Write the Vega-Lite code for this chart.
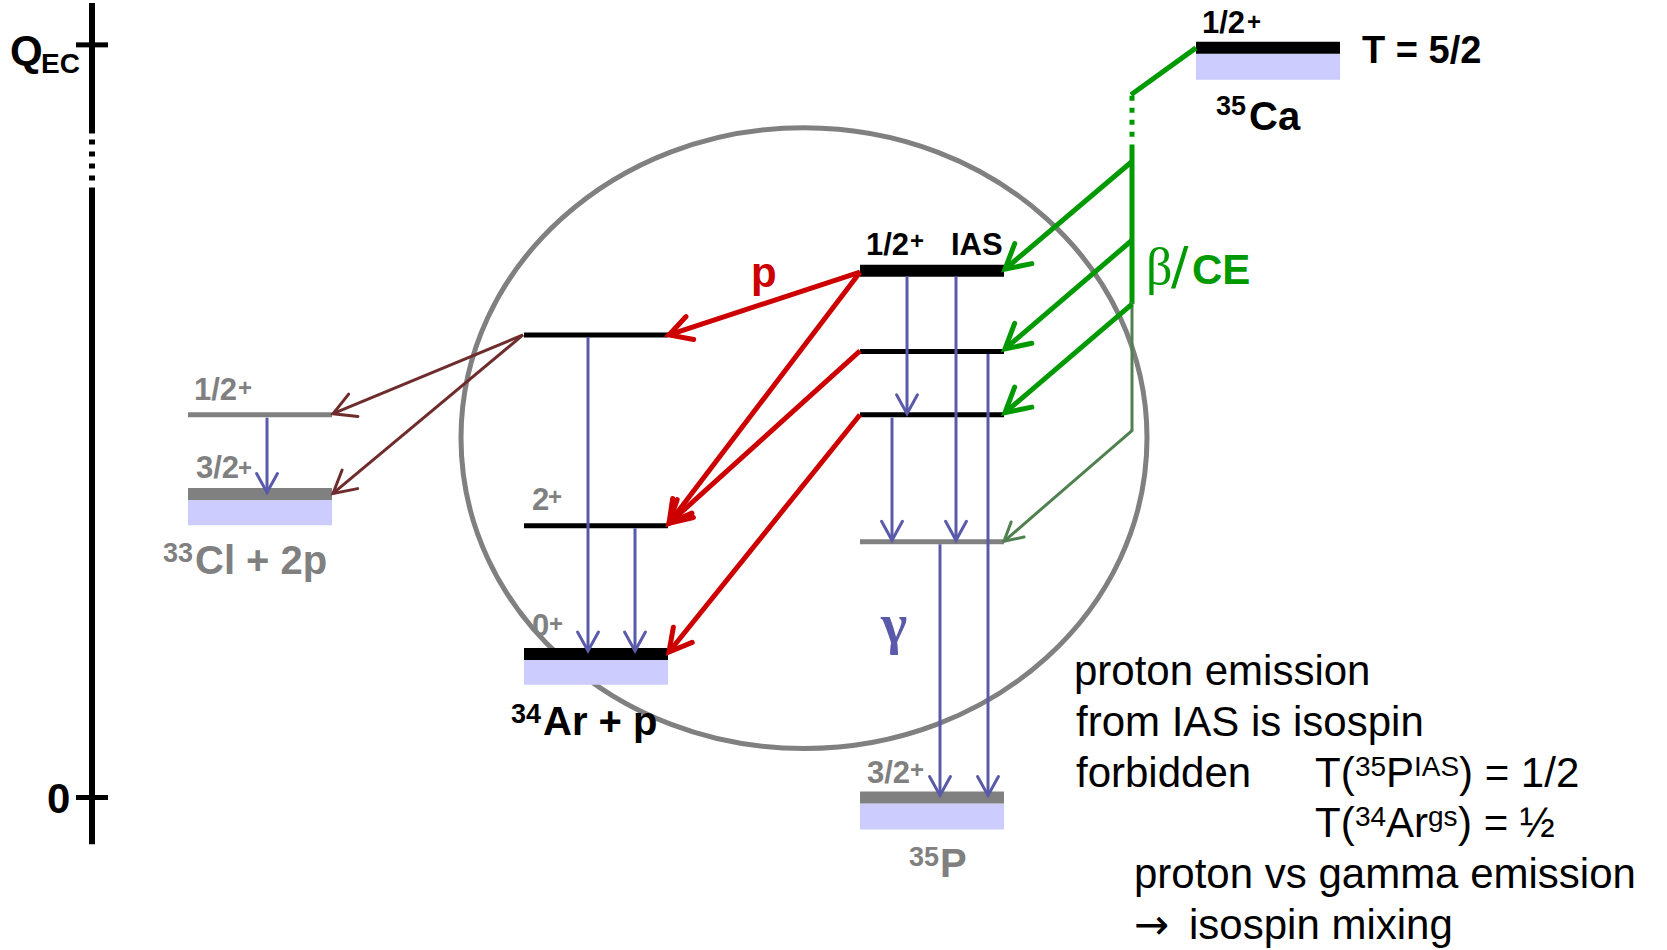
{
  "$schema": "https://vega.github.io/schema/vega-lite/v6.json",
  "width": 1667,
  "height": 950,
  "autosize": {"type": "fit", "contains": "padding"},
  "padding": 0,
  "background": "white",
  "config": {"view": {"stroke": null}},
  "datasets": {
    "ring": [{"x": 804, "y": 436.5}],
    "bands": [
      {"nucleus": "35Ca", "x": 1196, "x2": 1340, "y": 51, "y2": 77},
      {"nucleus": "34Ar+p", "x": 524, "x2": 668, "y": 659, "y2": 684},
      {"nucleus": "33Cl+2p", "x": 188, "x2": 332, "y": 498.5, "y2": 524},
      {"nucleus": "35P", "x": 860, "x2": 1004, "y": 803, "y2": 829}
    ],
    "levels": [
      {"kind": "mainGs", "nucleus": "35Ca", "x": 1196, "x2": 1340, "y": 45},
      {"kind": "mainGs", "nucleus": "35P IAS", "x": 860, "x2": 1004, "y": 268.5},
      {"kind": "mainGs", "nucleus": "34Ar+p", "x": 524, "x2": 668, "y": 653},
      {"kind": "sideGs", "nucleus": "33Cl+2p", "x": 188, "x2": 332, "y": 492.5},
      {"kind": "sideGs", "nucleus": "35P", "x": 860, "x2": 1004, "y": 797},
      {"kind": "main", "nucleus": "34Ar+p", "x": 524, "x2": 668, "y": 333},
      {"kind": "main", "nucleus": "34Ar+p", "x": 524, "x2": 668, "y": 524.5},
      {"kind": "main", "nucleus": "35P", "x": 860, "x2": 1004, "y": 349.5},
      {"kind": "main", "nucleus": "35P", "x": 860, "x2": 1004, "y": 413},
      {"kind": "side", "nucleus": "35P", "x": 860, "x2": 1004, "y": 540.5},
      {"kind": "side", "nucleus": "33Cl+2p", "x": 188, "x2": 332, "y": 413}
    ],
    "lines": [
      {"kind": "axis", "x": 92, "y": 0, "x2": 92, "y2": 131},
      {"kind": "axis", "x": 92, "y": 185, "x2": 92, "y2": 844},
      {"kind": "axisBreak", "x": 92, "y": 137, "x2": 92, "y2": 180},
      {"kind": "tick", "x": 76, "y": 42, "x2": 108, "y2": 42},
      {"kind": "tick", "x": 76, "y": 797, "x2": 108, "y2": 797},
      {"kind": "beta", "x": 1196, "y": 45, "x2": 1131, "y2": 92},
      {"kind": "beta", "x": 1132, "y": 142, "x2": 1132, "y2": 302},
      {"kind": "betaBreak", "x": 1132, "y": 93, "x2": 1132, "y2": 140},
      {"kind": "betaWeak", "x": 1132, "y": 300, "x2": 1132, "y2": 430}
    ],
    "arrows": [
      {"kind": "p", "x": 860, "y": 270, "x2": 669, "y2": 333, "dir": 161.7},
      {"kind": "p", "x": 860, "y": 270, "x2": 669, "y2": 522, "dir": 127.2},
      {"kind": "p", "x": 860, "y": 349, "x2": 669, "y2": 522, "dir": 137.8},
      {"kind": "p", "x": 860, "y": 413, "x2": 669, "y2": 651, "dir": 128.8},
      {"kind": "beta", "x": 1132, "y": 159, "x2": 1005, "y2": 267, "dir": 139.6},
      {"kind": "beta", "x": 1132, "y": 238, "x2": 1005, "y2": 347, "dir": 139.4},
      {"kind": "beta", "x": 1132, "y": 302, "x2": 1005, "y2": 411, "dir": 139.4},
      {"kind": "betaWeak", "x": 1132, "y": 429, "x2": 1004, "y2": 540, "dir": 139.1},
      {"kind": "twoP", "x": 523, "y": 333, "x2": 333, "y2": 412, "dir": 157.4},
      {"kind": "twoP", "x": 523, "y": 333, "x2": 333, "y2": 492, "dir": 140.1},
      {"kind": "gamma", "x": 907, "y": 274, "x2": 907, "y2": 412, "dir": 90},
      {"kind": "gamma", "x": 956, "y": 274, "x2": 956, "y2": 539, "dir": 90},
      {"kind": "gamma", "x": 988, "y": 352, "x2": 988, "y2": 795, "dir": 90},
      {"kind": "gamma", "x": 892, "y": 416, "x2": 892, "y2": 539, "dir": 90},
      {"kind": "gamma", "x": 940, "y": 543, "x2": 940, "y2": 795, "dir": 90},
      {"kind": "gamma", "x": 588, "y": 335, "x2": 588, "y2": 650, "dir": 90},
      {"kind": "gamma", "x": 635, "y": 527, "x2": 635, "y2": 650, "dir": 90},
      {"kind": "gamma", "x": 267, "y": 416, "x2": 267, "y2": 491, "dir": 90}
    ],
    "texts": [
      {"kind": "qec", "x": 10, "y": 62, "t": "Q"},
      {"kind": "qec", "x": 47, "y": 813, "t": "0"},
      {"kind": "qecSub", "x": 41, "y": 70, "t": "EC"},
      {"kind": "spin", "x": 1202, "y": 30, "t": "1/2"},
      {"kind": "spin", "x": 866, "y": 253, "t": "1/2"},
      {"kind": "spin", "x": 951, "y": 253, "t": "IAS"},
      {"kind": "spinSup", "x": 1247, "y": 27, "t": "+"},
      {"kind": "spinSup", "x": 910, "y": 247, "t": "+"},
      {"kind": "spinGray", "x": 194, "y": 398, "t": "1/2"},
      {"kind": "spinGray", "x": 196, "y": 477, "t": "3/2"},
      {"kind": "spinGray", "x": 532, "y": 509, "t": "2"},
      {"kind": "spinGray", "x": 532, "y": 635, "t": "0"},
      {"kind": "spinGray", "x": 867, "y": 782, "t": "3/2"},
      {"kind": "spinGraySup", "x": 238, "y": 394, "t": "+"},
      {"kind": "spinGraySup", "x": 238, "y": 474, "t": "+"},
      {"kind": "spinGraySup", "x": 548, "y": 504, "t": "+"},
      {"kind": "spinGraySup", "x": 549, "y": 631, "t": "+"},
      {"kind": "spinGraySup", "x": 910, "y": 777, "t": "+"},
      {"kind": "nuc", "x": 1249, "y": 127, "t": "Ca"},
      {"kind": "nuc", "x": 543, "y": 734, "t": "Ar + p"},
      {"kind": "nucSup", "x": 1216, "y": 112, "t": "35"},
      {"kind": "nucSup", "x": 511, "y": 722, "t": "34"},
      {"kind": "iso", "x": 1362, "y": 60, "t": "T = 5/2"},
      {"kind": "nucGray", "x": 195, "y": 573, "t": "Cl + 2p"},
      {"kind": "nucGray", "x": 940, "y": 877, "t": "P"},
      {"kind": "nucGraySup", "x": 163, "y": 561, "t": "33"},
      {"kind": "nucGraySup", "x": 909, "y": 866, "t": "35"},
      {"kind": "p", "x": 751, "y": 285, "t": "p"},
      {"kind": "gamma", "x": 881, "y": 642, "t": "γ"},
      {"kind": "beta", "x": 1146, "y": 282, "t": "β"},
      {"kind": "slash", "x": 1171, "y": 282, "t": "/"},
      {"kind": "ce", "x": 1192, "y": 282, "t": "CE"},
      {"kind": "note", "x": 1074, "y": 684, "t": "proton emission"},
      {"kind": "note", "x": 1076, "y": 735, "t": "from IAS is isospin"},
      {"kind": "note", "x": 1076, "y": 786, "t": "forbidden"},
      {"kind": "note", "x": 1315, "y": 786, "t": "T("},
      {"kind": "note", "x": 1386, "y": 786, "t": "P"},
      {"kind": "note", "x": 1459, "y": 786, "t": ") = 1/2"},
      {"kind": "note", "x": 1315, "y": 837, "t": "T("},
      {"kind": "note", "x": 1386, "y": 837, "t": "Ar"},
      {"kind": "note", "x": 1458, "y": 837, "t": ") = ½"},
      {"kind": "note", "x": 1134, "y": 888, "t": "proton vs gamma emission"},
      {"kind": "noteArrow", "x": 1134, "y": 939, "t": "→"},
      {"kind": "note", "x": 1189, "y": 939, "t": "isospin mixing"},
      {"kind": "noteSup", "x": 1355, "y": 775, "t": "35"},
      {"kind": "noteSup", "x": 1414, "y": 775, "t": "IAS"},
      {"kind": "noteSup", "x": 1355, "y": 826, "t": "34"},
      {"kind": "noteSup", "x": 1428, "y": 826, "t": "gs"}
    ]
  },
  "encoding": {
    "x": {"field": "x", "type": "quantitative", "scale": {"domain": [0, 1667], "nice": false, "zero": false}, "axis": null},
    "y": {"field": "y", "type": "quantitative", "scale": {"domain": [0, 950], "nice": false, "zero": false, "reverse": true}, "axis": null}
  },
  "layer": [
    {
      "data": {"name": "ring"},
      "mark": {"type": "point", "shape": "M -1 0 A 1 0.905 0 1 1 1 0 A 1 0.905 0 1 1 -1 0 Z", "size": 470596, "filled": false, "color": "#808080", "strokeWidth": 5, "opacity": 1}
    },
    {
      "data": {"name": "bands"},
      "mark": {"type": "rect", "color": "#CCCCFF"},
      "encoding": {"x2": {"field": "x2"}, "y2": {"field": "y2"}}
    },
    {
      "data": {"name": "levels"},
      "transform": [{"filter": "datum.kind === 'mainGs'"}],
      "mark": {"type": "rule", "color": "#000000", "strokeWidth": 12},
      "encoding": {"x2": {"field": "x2"}}
    },
    {
      "data": {"name": "levels"},
      "transform": [{"filter": "datum.kind === 'sideGs'"}],
      "mark": {"type": "rule", "color": "#808080", "strokeWidth": 12},
      "encoding": {"x2": {"field": "x2"}}
    },
    {
      "data": {"name": "levels"},
      "transform": [{"filter": "datum.kind === 'main'"}],
      "mark": {"type": "rule", "color": "#000000", "strokeWidth": 5},
      "encoding": {"x2": {"field": "x2"}}
    },
    {
      "data": {"name": "levels"},
      "transform": [{"filter": "datum.kind === 'side'"}],
      "mark": {"type": "rule", "color": "#808080", "strokeWidth": 5},
      "encoding": {"x2": {"field": "x2"}}
    },
    {
      "data": {"name": "lines"},
      "transform": [{"filter": "datum.kind === 'axis'"}],
      "mark": {"type": "rule", "color": "#000000", "strokeWidth": 6},
      "encoding": {"x2": {"field": "x2"}, "y2": {"field": "y2"}}
    },
    {
      "data": {"name": "lines"},
      "transform": [{"filter": "datum.kind === 'axisBreak'"}],
      "mark": {"type": "rule", "color": "#000000", "strokeWidth": 6, "strokeDash": [5, 7]},
      "encoding": {"x2": {"field": "x2"}, "y2": {"field": "y2"}}
    },
    {
      "data": {"name": "lines"},
      "transform": [{"filter": "datum.kind === 'tick'"}],
      "mark": {"type": "rule", "color": "#000000", "strokeWidth": 5},
      "encoding": {"x2": {"field": "x2"}, "y2": {"field": "y2"}}
    },
    {
      "data": {"name": "lines"},
      "transform": [{"filter": "datum.kind === 'beta'"}],
      "mark": {"type": "rule", "color": "#009900", "strokeWidth": 5},
      "encoding": {"x2": {"field": "x2"}, "y2": {"field": "y2"}}
    },
    {
      "data": {"name": "lines"},
      "transform": [{"filter": "datum.kind === 'betaBreak'"}],
      "mark": {"type": "rule", "color": "#009900", "strokeWidth": 5, "strokeDash": [5, 7]},
      "encoding": {"x2": {"field": "x2"}, "y2": {"field": "y2"}}
    },
    {
      "data": {"name": "lines"},
      "transform": [{"filter": "datum.kind === 'betaWeak'"}],
      "mark": {"type": "rule", "color": "#508050", "strokeWidth": 3},
      "encoding": {"x2": {"field": "x2"}, "y2": {"field": "y2"}}
    },
    {
      "data": {"name": "arrows"},
      "transform": [{"filter": "datum.kind === 'gamma'"}],
      "mark": {"type": "rule", "color": "#5A5AAA", "strokeWidth": 3},
      "encoding": {"x2": {"field": "x2"}, "y2": {"field": "y2"}}
    },
    {
      "data": {"name": "arrows"},
      "transform": [{"filter": "datum.kind === 'gamma'"}],
      "mark": {"type": "point", "shape": "M -1 -0.55 L 0 0 L -1 0.55", "filled": false, "color": "#5A5AAA", "strokeWidth": 3, "size": 1444, "opacity": 1, "strokeJoin": "miter", "strokeCap": "round"},
      "encoding": {
        "x": {"field": "x2", "type": "quantitative", "scale": {"domain": [0, 1667], "nice": false, "zero": false}, "axis": null},
        "y": {"field": "y2", "type": "quantitative", "scale": {"domain": [0, 950], "nice": false, "zero": false, "reverse": true}, "axis": null},
        "angle": {"field": "dir", "type": "quantitative", "scale": null}
      }
    },
    {
      "data": {"name": "arrows"},
      "transform": [{"filter": "datum.kind === 'twoP'"}],
      "mark": {"type": "rule", "color": "#6E2C2C", "strokeWidth": 3},
      "encoding": {"x2": {"field": "x2"}, "y2": {"field": "y2"}}
    },
    {
      "data": {"name": "arrows"},
      "transform": [{"filter": "datum.kind === 'twoP'"}],
      "mark": {"type": "point", "shape": "M -1 -0.55 L 0 0 L -1 0.55", "filled": false, "color": "#6E2C2C", "strokeWidth": 3, "size": 1936, "opacity": 1, "strokeJoin": "miter", "strokeCap": "round"},
      "encoding": {
        "x": {"field": "x2", "type": "quantitative", "scale": {"domain": [0, 1667], "nice": false, "zero": false}, "axis": null},
        "y": {"field": "y2", "type": "quantitative", "scale": {"domain": [0, 950], "nice": false, "zero": false, "reverse": true}, "axis": null},
        "angle": {"field": "dir", "type": "quantitative", "scale": null}
      }
    },
    {
      "data": {"name": "arrows"},
      "transform": [{"filter": "datum.kind === 'betaWeak'"}],
      "mark": {"type": "rule", "color": "#508050", "strokeWidth": 3},
      "encoding": {"x2": {"field": "x2"}, "y2": {"field": "y2"}}
    },
    {
      "data": {"name": "arrows"},
      "transform": [{"filter": "datum.kind === 'betaWeak'"}],
      "mark": {"type": "point", "shape": "M -1 -0.55 L 0 0 L -1 0.55", "filled": false, "color": "#508050", "strokeWidth": 3, "size": 1296, "opacity": 1, "strokeJoin": "miter", "strokeCap": "round"},
      "encoding": {
        "x": {"field": "x2", "type": "quantitative", "scale": {"domain": [0, 1667], "nice": false, "zero": false}, "axis": null},
        "y": {"field": "y2", "type": "quantitative", "scale": {"domain": [0, 950], "nice": false, "zero": false, "reverse": true}, "axis": null},
        "angle": {"field": "dir", "type": "quantitative", "scale": null}
      }
    },
    {
      "data": {"name": "arrows"},
      "transform": [{"filter": "datum.kind === 'beta'"}],
      "mark": {"type": "rule", "color": "#009900", "strokeWidth": 5},
      "encoding": {"x2": {"field": "x2"}, "y2": {"field": "y2"}}
    },
    {
      "data": {"name": "arrows"},
      "transform": [{"filter": "datum.kind === 'beta'"}],
      "mark": {"type": "point", "shape": "M -1 -0.55 L 0 0 L -1 0.55", "filled": false, "color": "#009900", "strokeWidth": 5, "size": 2304, "opacity": 1, "strokeJoin": "miter", "strokeCap": "round"},
      "encoding": {
        "x": {"field": "x2", "type": "quantitative", "scale": {"domain": [0, 1667], "nice": false, "zero": false}, "axis": null},
        "y": {"field": "y2", "type": "quantitative", "scale": {"domain": [0, 950], "nice": false, "zero": false, "reverse": true}, "axis": null},
        "angle": {"field": "dir", "type": "quantitative", "scale": null}
      }
    },
    {
      "data": {"name": "arrows"},
      "transform": [{"filter": "datum.kind === 'p'"}],
      "mark": {"type": "rule", "color": "#CC0000", "strokeWidth": 5},
      "encoding": {"x2": {"field": "x2"}, "y2": {"field": "y2"}}
    },
    {
      "data": {"name": "arrows"},
      "transform": [{"filter": "datum.kind === 'p'"}],
      "mark": {"type": "point", "shape": "M -1 -0.55 L 0 0 L -1 0.55", "filled": false, "color": "#CC0000", "strokeWidth": 5, "size": 1936, "opacity": 1, "strokeJoin": "miter", "strokeCap": "round"},
      "encoding": {
        "x": {"field": "x2", "type": "quantitative", "scale": {"domain": [0, 1667], "nice": false, "zero": false}, "axis": null},
        "y": {"field": "y2", "type": "quantitative", "scale": {"domain": [0, 950], "nice": false, "zero": false, "reverse": true}, "axis": null},
        "angle": {"field": "dir", "type": "quantitative", "scale": null}
      }
    },
    {
      "data": {"name": "texts"},
      "transform": [{"filter": "datum.kind === 'qec'"}],
      "mark": {"type": "text", "align": "left", "baseline": "alphabetic", "font": "Liberation Sans", "fontWeight": "bold", "fontSize": 42, "color": "#000000"},
      "encoding": {"text": {"field": "t"}}
    },
    {
      "data": {"name": "texts"},
      "transform": [{"filter": "datum.kind === 'qecSub'"}],
      "mark": {"type": "text", "align": "left", "baseline": "alphabetic", "font": "Liberation Sans", "fontWeight": "bold", "fontSize": 28, "color": "#000000"},
      "encoding": {"text": {"field": "t"}}
    },
    {
      "data": {"name": "texts"},
      "transform": [{"filter": "datum.kind === 'spin'"}],
      "mark": {"type": "text", "align": "left", "baseline": "alphabetic", "font": "Liberation Sans", "fontWeight": "bold", "fontSize": 31, "color": "#000000"},
      "encoding": {"text": {"field": "t"}}
    },
    {
      "data": {"name": "texts"},
      "transform": [{"filter": "datum.kind === 'spinSup'"}],
      "mark": {"type": "text", "align": "left", "baseline": "alphabetic", "font": "Liberation Sans", "fontWeight": "bold", "fontSize": 24, "color": "#000000"},
      "encoding": {"text": {"field": "t"}}
    },
    {
      "data": {"name": "texts"},
      "transform": [{"filter": "datum.kind === 'spinGray'"}],
      "mark": {"type": "text", "align": "left", "baseline": "alphabetic", "font": "Liberation Sans", "fontWeight": "bold", "fontSize": 31, "color": "#808080"},
      "encoding": {"text": {"field": "t"}}
    },
    {
      "data": {"name": "texts"},
      "transform": [{"filter": "datum.kind === 'spinGraySup'"}],
      "mark": {"type": "text", "align": "left", "baseline": "alphabetic", "font": "Liberation Sans", "fontWeight": "bold", "fontSize": 24, "color": "#808080"},
      "encoding": {"text": {"field": "t"}}
    },
    {
      "data": {"name": "texts"},
      "transform": [{"filter": "datum.kind === 'nuc'"}],
      "mark": {"type": "text", "align": "left", "baseline": "alphabetic", "font": "Liberation Sans", "fontWeight": "bold", "fontSize": 40, "color": "#000000"},
      "encoding": {"text": {"field": "t"}}
    },
    {
      "data": {"name": "texts"},
      "transform": [{"filter": "datum.kind === 'nucSup'"}],
      "mark": {"type": "text", "align": "left", "baseline": "alphabetic", "font": "Liberation Sans", "fontWeight": "bold", "fontSize": 27, "color": "#000000"},
      "encoding": {"text": {"field": "t"}}
    },
    {
      "data": {"name": "texts"},
      "transform": [{"filter": "datum.kind === 'iso'"}],
      "mark": {"type": "text", "align": "left", "baseline": "alphabetic", "font": "Liberation Sans", "fontWeight": "bold", "fontSize": 38, "color": "#000000"},
      "encoding": {"text": {"field": "t"}}
    },
    {
      "data": {"name": "texts"},
      "transform": [{"filter": "datum.kind === 'nucGray'"}],
      "mark": {"type": "text", "align": "left", "baseline": "alphabetic", "font": "Liberation Sans", "fontWeight": "bold", "fontSize": 40, "color": "#808080"},
      "encoding": {"text": {"field": "t"}}
    },
    {
      "data": {"name": "texts"},
      "transform": [{"filter": "datum.kind === 'nucGraySup'"}],
      "mark": {"type": "text", "align": "left", "baseline": "alphabetic", "font": "Liberation Sans", "fontWeight": "bold", "fontSize": 27, "color": "#808080"},
      "encoding": {"text": {"field": "t"}}
    },
    {
      "data": {"name": "texts"},
      "transform": [{"filter": "datum.kind === 'p'"}],
      "mark": {"type": "text", "align": "left", "baseline": "alphabetic", "font": "Liberation Sans", "fontWeight": "bold", "fontSize": 42, "color": "#CC0000"},
      "encoding": {"text": {"field": "t"}}
    },
    {
      "data": {"name": "texts"},
      "transform": [{"filter": "datum.kind === 'gamma'"}],
      "mark": {"type": "text", "align": "left", "baseline": "alphabetic", "font": "Liberation Serif", "fontWeight": "bold", "fontSize": 56, "color": "#5A5AAA"},
      "encoding": {"text": {"field": "t"}}
    },
    {
      "data": {"name": "texts"},
      "transform": [{"filter": "datum.kind === 'beta'"}],
      "mark": {"type": "text", "align": "left", "baseline": "alphabetic", "font": "Liberation Serif", "fontSize": 52, "color": "#009900"},
      "encoding": {"text": {"field": "t"}}
    },
    {
      "data": {"name": "texts"},
      "transform": [{"filter": "datum.kind === 'slash'"}],
      "mark": {"type": "text", "align": "left", "baseline": "alphabetic", "font": "DejaVu Sans", "fontSize": 52, "color": "#009900"},
      "encoding": {"text": {"field": "t"}}
    },
    {
      "data": {"name": "texts"},
      "transform": [{"filter": "datum.kind === 'ce'"}],
      "mark": {"type": "text", "align": "left", "baseline": "alphabetic", "font": "Liberation Sans", "fontWeight": "bold", "fontSize": 42, "color": "#009900"},
      "encoding": {"text": {"field": "t"}}
    },
    {
      "data": {"name": "texts"},
      "transform": [{"filter": "datum.kind === 'note'"}],
      "mark": {"type": "text", "align": "left", "baseline": "alphabetic", "font": "Liberation Sans", "fontSize": 42, "color": "#000000"},
      "encoding": {"text": {"field": "t"}}
    },
    {
      "data": {"name": "texts"},
      "transform": [{"filter": "datum.kind === 'noteArrow'"}],
      "mark": {"type": "text", "align": "left", "baseline": "alphabetic", "font": "DejaVu Sans", "fontSize": 42, "color": "#000000"},
      "encoding": {"text": {"field": "t"}}
    },
    {
      "data": {"name": "texts"},
      "transform": [{"filter": "datum.kind === 'noteSup'"}],
      "mark": {"type": "text", "align": "left", "baseline": "alphabetic", "font": "Liberation Sans", "fontSize": 28, "color": "#000000"},
      "encoding": {"text": {"field": "t"}}
    }
  ]
}
